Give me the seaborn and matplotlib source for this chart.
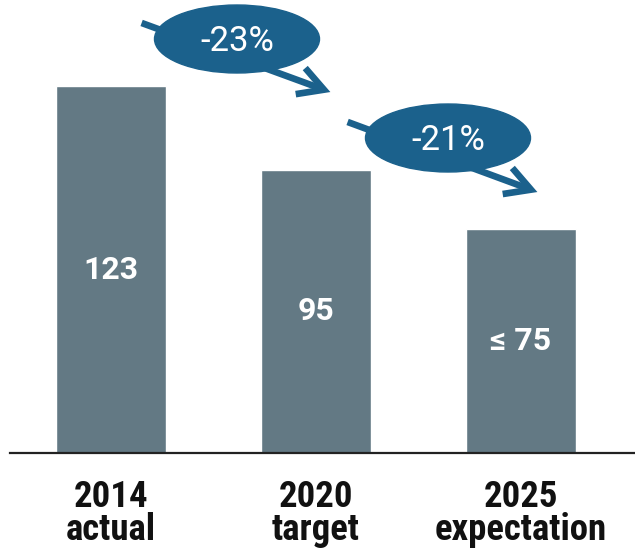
import matplotlib
matplotlib.use("Agg")
import matplotlib.pyplot as plt
import seaborn as sns
import pandas as pd
from matplotlib.patches import Ellipse, FancyArrowPatch

categories = ["2014\nactual", "2020\ntarget", "2025\nexpectation"]
values = [123, 95, 75]
bar_labels = ["123", "95", "≤ 75"]
changes = ["-23%", "-21%"]

BAR = "#637984"
BLUE = "#1b618c"
W, H = 635, 552

sns.set_style("white")
plt.rcParams["font.family"] = ["Roboto", "DejaVu Sans"]

fig = plt.figure(figsize=(W / 100, H / 100), dpi=100)
ax = fig.add_axes([10 / W, 99 / H, 625 / W, 453 / H])

df = pd.DataFrame({"cat": categories, "val": values})
sns.barplot(data=df, x="cat", y="val", color=BAR, saturation=1, width=0.54, ax=ax)

ax.set_xlim(-0.493, 2.556)
ax.set_ylim(0, 152)
ax.set_xlabel("")
ax.set_ylabel("")
ax.set_yticks([])
for s in ["top", "right", "left"]:
    ax.spines[s].set_visible(False)
ax.spines["bottom"].set_color("#222222")
ax.spines["bottom"].set_linewidth(1.6)
ax.tick_params(axis="x", length=0, pad=19)
for lab in ax.get_xticklabels():
    lab.set_fontfamily(["Roboto Condensed", "Liberation Sans Narrow", "Roboto", "DejaVu Sans"])
    lab.set_fontweight("bold")
    lab.set_fontsize(26.5)
    lab.set_linespacing(0.88)
    lab.set_color("#111111")

for i, (v, t) in enumerate(zip(values, bar_labels)):
    ax.text(i, v / 2, t, ha="center", va="center", color="white",
            fontsize=23, fontweight="bold")

def fx(px):
    return px / W

def fy(py):
    return 1 - py / H

arrows = [((139, 22), (333, 93), (237, 39)), ((345, 121), (540, 193), (448, 138))]
for (s, e, c), txt in zip(arrows, changes):
    fig.add_artist(FancyArrowPatch(
        (fx(s[0]), fy(s[1])), (fx(e[0]), fy(e[1])), transform=fig.transFigure,
        arrowstyle="->,head_length=18,head_width=10", mutation_scale=1,
        color=BLUE, lw=4.8, capstyle="butt", joinstyle="miter"))
    fig.add_artist(Ellipse((fx(c[0]), fy(c[1])), 165 / W, 68 / H,
                           transform=fig.transFigure, color=BLUE, zorder=5))
    fig.text(fx(c[0]), fy(c[1]) - 0.004, txt, ha="center", va="center", color="white",
             fontsize=25, zorder=6)

fig.savefig("out.png", dpi=100)
